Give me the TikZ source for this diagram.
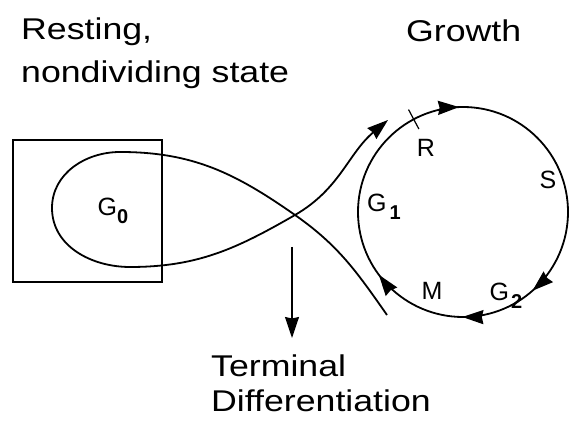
\documentclass[tikz,border=0pt]{standalone}
\usepackage{fontspec}
\setmainfont{Liberation Sans}
\newfontfamily\widefont{Liberation Sans}[FakeStretch=1.19]
\usetikzlibrary{arrows.meta,positioning,decorations.markings}

\newcommand{\phaseidx}[2][0pt]{\kern#1\raisebox{-8pt}{\fontsize{20}{20}\selectfont\bfseries #2}}

\begin{document}
\begin{tikzpicture}[
    x=1pt, y=1pt,
    >={Stealth[length=21pt, width=14pt, inset=1.5pt]},
    bigtext/.style={inner sep=0pt, anchor=base west, font=\widefont\fontsize{30}{36}\selectfont},
    phase/.style={inner sep=0pt, font=\fontsize{25}{28}\selectfont},
    path8/.style={line width=1.8pt},
    flow/.style={path8, postaction=decorate, decoration={markings,
        mark=at position 0.244 with {\arrow{>}},
        mark=at position 0.635 with {\arrow{>}},
        mark=at position 0.751 with {\arrow{>}},
        mark=at position 0.898 with {\arrow{>}}}}
]
    \useasboundingbox (0,0) rectangle (575,430);

    \node[bigtext] (rest) at (21,390) {Resting,};
    \node[bigtext] (nondiv) at (21,347) {nondividing state};
    \node[bigtext] (growth) at (406,388) {Growth};
    \node[bigtext] (term) at (211,53) {Terminal};
    \node[bigtext] (diff) at (211,18) {Differentiation};

    \node[draw, line width=1.3pt, minimum width=149pt, minimum height=142pt, inner sep=0pt] (box) at (87.5,219) {};
    \node[phase] (g0) at (113,219) {G\phaseidx{0}};

    \coordinate (ctr) at (463,218);
    \coordinate (cross) at (295,215);
    \coordinate (top) at (120,278);
    \coordinate (left) at (52,222);
    \coordinate (bot) at (130,163);
    \coordinate (tail) at (387,115);
    \coordinate (head) at (388,310);

    \draw[flow] ([shift={(180:105)}]ctr) arc[start angle=180, end angle=-180, radius=105];
    \draw[line width=1.2pt] ([shift={(118:94)}]ctr) -- ([shift={(118:116)}]ctr);

    \draw[path8, ->] (tail) to[out=125, in=-35] (cross) to[out=145, in=0] (top)
        to[out=180, in=90] (left) to[out=-90, in=180] (bot)
        to[out=0, in=-150] (cross) to[out=30, in=-140] (head);

    \coordinate (exit) at (292,183);
    \draw[line width=1.3pt, ->] (exit) -- (exit |- 0,92);

    \node[phase] (r) at (426,282) {R};
    \node[phase] (s) at (548,250) {S};
    \node[phase] (g1) at (384,223) {G\phaseidx[3pt]{1}};
    \node[phase] (m) at (432,139) {M};
    \node[phase] (g2) at (506,134) {G\phaseidx[2pt]{2}};
\end{tikzpicture}
\end{document}
